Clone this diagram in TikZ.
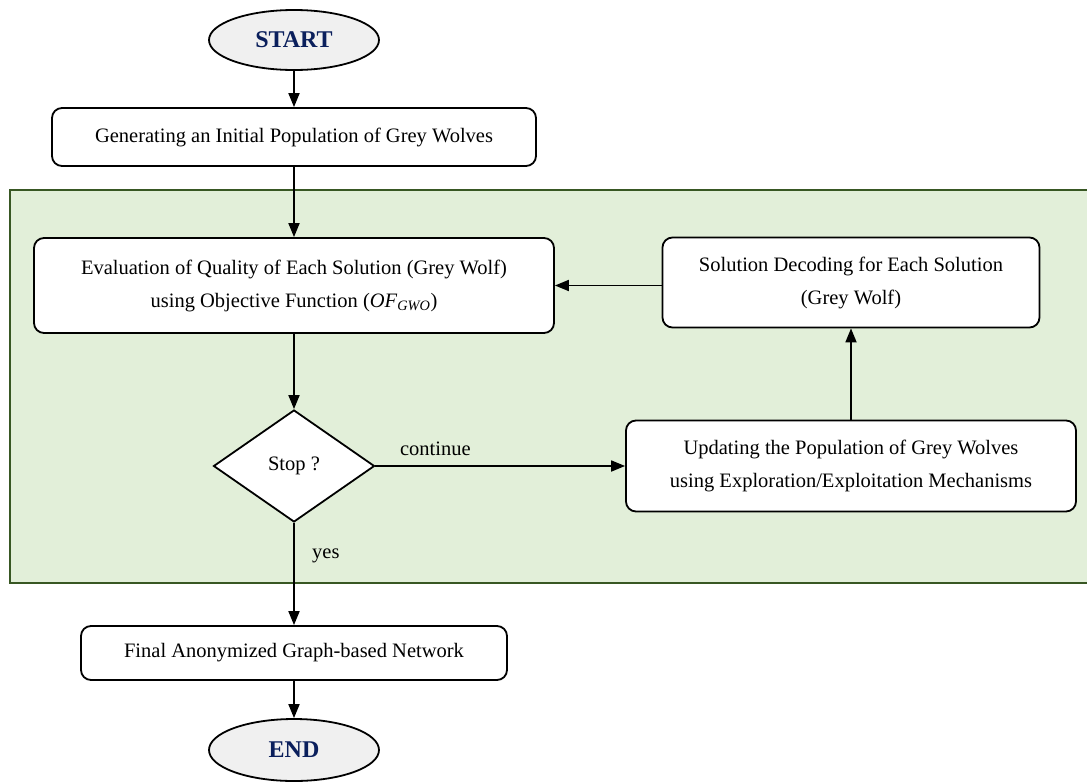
\documentclass[tikz,border=0pt]{standalone}
\usepackage{fontspec}
\setmainfont{Liberation Serif}
\usetikzlibrary{shapes.geometric}
\usetikzlibrary{arrows.meta}
\usetikzlibrary{positioning}

\definecolor{regiongreen}{HTML}{E2EFD9}
\definecolor{regionedge}{HTML}{385723}
\definecolor{termfill}{HTML}{F0F0F0}
\definecolor{termtext}{HTML}{0A1F5C}

\begin{document}
\begin{tikzpicture}[x=1pt,y=-1pt,->,>={Triangle[length=14pt,width=11pt]},line width=1.8pt,node distance=100pt,on grid,
    every node/.style={font=\fontsize{20.5}{33}\selectfont},
    terminal/.style={ellipse,draw,fill=termfill,minimum width=170pt,minimum height=60pt,inner sep=0pt,text=termtext,font=\fontsize{24}{28}\selectfont\bfseries},
    process/.style={rectangle,draw,rounded corners=10pt,fill=white,align=center,inner sep=0pt},
    decision/.style={diamond,draw,fill=white,minimum width=161pt,minimum height=112pt,inner sep=0pt},
    region/.style={draw=regionedge,fill=regiongreen,line width=1.4pt}]
        \useasboundingbox (0,0) rectangle (1087,782);
        \draw[region,-] (10,190) rectangle (1100,583);
        \node[terminal] (start) at (294,40) {START};
        \node[process,minimum width=484pt,minimum height=58pt] (init) [below=97pt of start] {Generating an Initial Population of Grey Wolves};
        \node[process,minimum width=520pt,minimum height=95pt] (eval) [below=148.5pt of init] {Evaluation of Quality of Each Solution (Grey Wolf)\\using Objective Function (\textit{OF}\textsubscript{\textit{GWO}})};
        \node[decision] (stop) [below=180.5pt of eval] {Stop ?};
        \node[process,minimum width=450pt,minimum height=91pt] (update) [right=557pt of stop] {Updating the Population of Grey Wolves\\using Exploration/Exploitation Mechanisms};
        \node[process,minimum width=377pt,minimum height=90pt] (decode) [above=183.5pt of update] {Solution Decoding for Each Solution\\(Grey Wolf)};
        \node[process,minimum width=426pt,minimum height=54pt] (final) [below=187pt of stop] {Final Anonymized Graph-based Network};
        \node[terminal,minimum height=62pt] (end) [below=97pt of final] {END};
        \path   (start) edge (init)
                (init) edge (eval)
                (eval) edge (stop)
                (stop) edge node[above=6pt,pos=0.24] {continue} (update)
                       edge node[right=14pt,pos=0.32] {yes} (final)
                (update) edge (decode)
                ([yshift=-3pt]decode.west) edge ([yshift=-3pt]eval.east |- decode.west)
                (final) edge (end);
\end{tikzpicture}
\end{document}
